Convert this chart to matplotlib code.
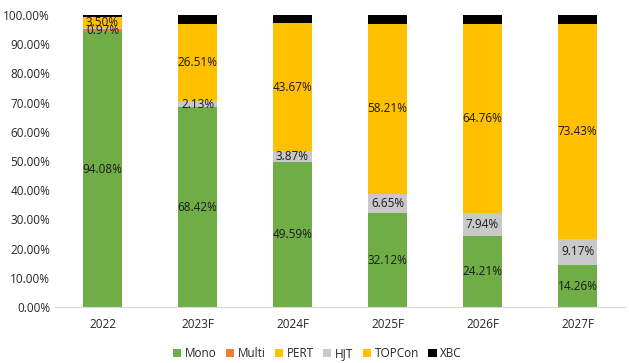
import matplotlib.pyplot as plt
import numpy as np

plt.rcParams['font.family'] = ['Open Sans', 'DejaVu Sans']

# данные
years = ['2022', '2023F', '2024F', '2025F', '2026F', '2027F']
mono = [94.08, 68.42, 49.59, 32.12, 24.21, 14.26]
multi = [0.97, 0, 0, 0, 0, 0]
pert = [0, 0, 0, 0, 0, 0]
hjt = [0.65, 2.13, 3.87, 6.65, 7.94, 9.17]
topcon = [3.50, 26.51, 43.67, 58.21, 64.76, 73.43]
xbc = [0.80, 2.94, 2.87, 3.02, 3.09, 3.14]

series = [
    ('Mono', mono, '#70AD47'),
    ('Multi', multi, '#ED7D31'),
    ('PERT', pert, '#FFC000'),
    ('HJT', hjt, '#C9C9C9'),
    ('TOPCon', topcon, '#FFC000'),
    ('XBC', xbc, '#000000'),
]

fig = plt.figure(figsize=(6.29, 3.63), dpi=100)
ax = fig.add_axes([55 / 629, 1 - 307 / 363, 570 / 629, 292 / 363])

x = np.arange(len(years))
bottom = np.zeros(len(years))
for name, vals, color in series:
    vals = np.array(vals)
    ax.bar(x, vals, 0.41, bottom=bottom, color=color, label=name)
    if name != 'XBC':
        for xi, b, v in zip(x, bottom, vals):
            if v >= 0.9:
                ax.text(xi, b + v / 2, f'{v:.2f}%', ha='center', va='center',
                        fontsize=8.5, color='#1a1a1a')
    bottom += vals

ax.set_xlim(-0.5, len(years) - 0.5)
ax.set_ylim(0, 100)
ax.set_yticks(np.arange(0, 101, 10))
ax.set_yticklabels([f'{t:.2f}%' for t in np.arange(0, 101, 10)])
ax.set_xticks(x)
ax.set_xticklabels(years)
for s in ['top', 'right', 'left']:
    ax.spines[s].set_visible(False)
ax.spines['bottom'].set_color('#d9d9d9')
ax.tick_params(axis='both', length=0, labelsize=8.5, colors='#262626')
ax.tick_params(axis='x', pad=8)

ax.legend(loc='upper center', bbox_to_anchor=(0.46, -0.1), ncol=6, frameon=False,
          fontsize=8.5, handlelength=0.7, handleheight=0.7, handletextpad=0.3,
          columnspacing=0.8, labelcolor='#262626')

plt.savefig('out.png')
